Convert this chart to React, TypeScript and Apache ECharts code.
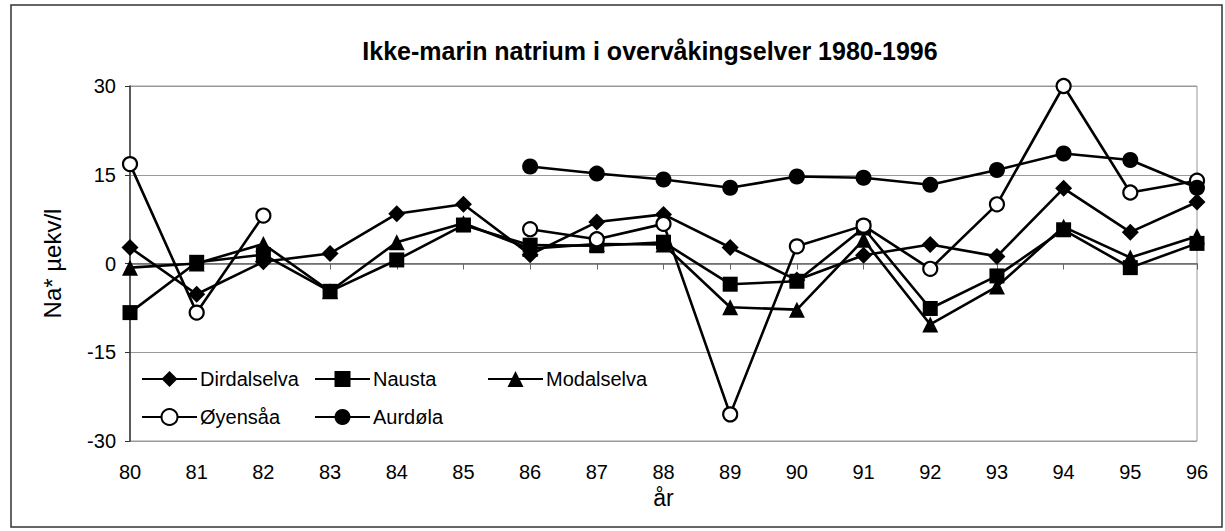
import React, { useEffect, useRef } from "react";
import * as echarts from "echarts";

const years = ["80", "81", "82", "83", "84", "85", "86", "87", "88", "89", "90", "91", "92", "93", "94", "95", "96"];
const yTicks = { min: -30, max: 30, interval: 15 };

const dirdalselva = [2.7, -5.2, 0.3, 1.7, 8.4, 10.0, 1.5, 7.0, 8.3, 2.7, -2.8, 1.4, 3.2, 1.2, 12.7, 5.3, 10.4];
const nausta = [-8.3, 0.2, 1.5, -4.7, 0.6, 6.5, 3.1, 3.0, 3.6, -3.5, -3.0, 6.0, -7.6, -2.1, 5.7, -0.7, 3.4];
const modalselva = [-0.7, 0.0, 3.3, -4.7, 3.6, 6.8, 2.5, 3.3, 3.2, -7.4, -7.8, 4.0, -10.3, -3.9, 6.2, 1.0, 4.6];
const oyensaa = [16.8, -8.3, 8.1, null, null, null, 5.8, 4.1, 6.7, -25.5, 2.9, 6.4, -0.9, 10.0, 30.0, 12.0, 14.0];
const aurdola = [null, null, null, null, null, null, 16.4, 15.2, 14.2, 12.8, 14.7, 14.5, 13.3, 15.8, 18.6, 17.5, 12.8];

const FONT = "'Liberation Sans', Arial, Helvetica, sans-serif";

const seriesDefs = [
  { name: "Dirdalselva", data: dirdalselva, symbol: "diamond", size: 17, fill: "#000" },
  { name: "Nausta", data: nausta, symbol: "rect", size: 15, fill: "#000" },
  { name: "Modalselva", data: modalselva, symbol: "triangle", size: 16, fill: "#000" },
  { name: "Øyensåa", data: oyensaa, symbol: "circle", size: 14, fill: "#fff" },
  { name: "Aurdøla", data: aurdola, symbol: "circle", size: 16, fill: "#000" },
];

const legendPos = [
  { left: 141, top: 369 },
  { left: 314, top: 369 },
  { left: 487, top: 369 },
  { left: 141, top: 407 },
  { left: 314, top: 407 },
];

export default function App() {
  const ref = useRef<HTMLDivElement>(null);
  useEffect(() => {
    document.body.style.margin = "0";
    const chart = echarts.init(ref.current!, null, { renderer: "svg" });
    chart.setOption({
      animation: false,
      backgroundColor: "#fff",
      textStyle: { fontFamily: FONT, color: "#000" },
      title: {
        text: "Ikke-marin natrium i overvåkingselver 1980-1996",
        left: 645,
        top: 33,
        textAlign: "center",
        textStyle: { fontFamily: FONT, fontSize: 25, fontWeight: "bold", color: "#000" },
      },
      legend: seriesDefs.map((s, i) => ({
        data: [s.name],
        left: legendPos[i].left,
        top: legendPos[i].top,
        itemWidth: 55,
        itemHeight: 20,
        itemGap: 5,
        padding: 0,
        textStyle: { fontFamily: FONT, fontSize: 20, color: "#000", padding: [0, 0, 0, -2] },
      })),
      grid: {
        left: 130,
        right: 28,
        top: 86,
        bottom: 90,
        show: true,
        borderColor: "#999",
        borderWidth: 1,
      },
      xAxis: {
        type: "category",
        data: years,
        boundaryGap: false,
        name: "år",
        nameLocation: "middle",
        nameGap: 45,
        nameTextStyle: { fontFamily: FONT, fontSize: 23, color: "#000" },
        axisLine: { lineStyle: { color: "#666", width: 1.5 } },
        axisTick: { show: true, length: 6, lineStyle: { color: "#666" } },
        axisLabel: { fontFamily: FONT, fontSize: 20, color: "#000", margin: 21 },
        splitLine: { show: false },
      },
      yAxis: {
        type: "value",
        min: yTicks.min,
        max: yTicks.max,
        interval: yTicks.interval,
        name: "Na* µekv/l",
        nameLocation: "middle",
        nameGap: 66,
        nameTextStyle: { fontFamily: FONT, fontSize: 24, color: "#000" },
        axisLine: { show: true, lineStyle: { color: "#333", width: 1.5 } },
        axisTick: { show: true, length: 5, lineStyle: { color: "#333" } },
        axisLabel: { fontFamily: FONT, fontSize: 20, color: "#000", margin: 14 },
        splitLine: { show: true, lineStyle: { color: "#999", width: 1 } },
      },
      graphic: [
        {
          type: "rect",
          shape: { x: 11, y: 5, width: 1211, height: 522 },
          style: { fill: "none", stroke: "#333", lineWidth: 1.5 },
          silent: true,
          z: -1,
        },
      ],
      series: seriesDefs.map((s) => ({
        name: s.name,
        type: "line",
        data: s.data,
        symbol: s.symbol,
        symbolSize: s.size,
        showAllSymbol: true,
        connectNulls: false,
        lineStyle: { color: "#000", width: 2.6 },
        itemStyle: { color: s.fill, borderColor: "#000", borderWidth: s.fill === "#fff" ? 2.2 : 0 },
        emphasis: { disabled: true },
      })),
    });
    return () => chart.dispose();
  }, []);
  return <div ref={ref} style={{ width: 1225, height: 531 }} />;
}
